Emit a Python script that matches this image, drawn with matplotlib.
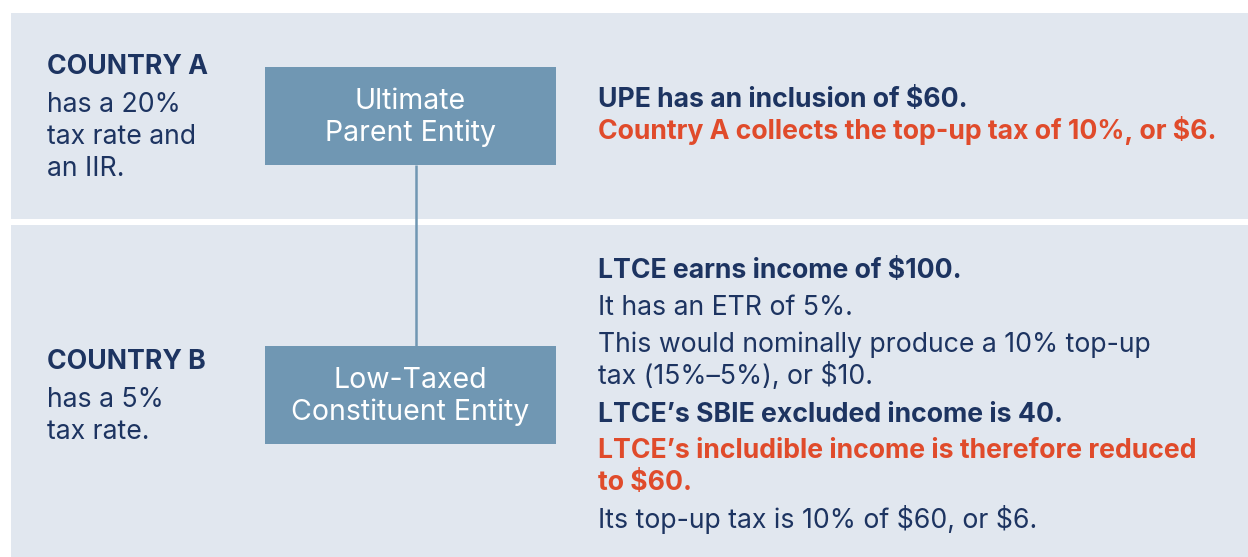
import matplotlib
matplotlib.use('Agg')
import matplotlib.pyplot as plt
from matplotlib.patches import Rectangle

plt.rcParams['font.family'] = ['Inter', 'DejaVu Sans']
plt.rcParams['text.parse_math'] = False

navy = '#1d3461'
orange = '#e04b2b'
panel_col = '#e1e7ef'
box_col = '#7097b3'

# left column texts
country_heads = ['COUNTRY A', 'COUNTRY B']
country_notes = [['has a 20%', 'tax rate and', 'an IIR.'],
                 ['has a 5%', 'tax rate.']]
# entity boxes
entity_names = [['Ultimate', 'Parent Entity'],
                ['Low-Taxed', 'Constituent Entity']]
# right column texts: (text, bold, colour)
top_notes = [('UPE has an inclusion of $60.', True, navy),
             ('Country A collects the top-up tax of 10%, or $6.', True, orange)]
bottom_notes = [('LTCE earns income of $100.', True, navy),
                ('It has an ETR of 5%.', False, navy),
                ('This would nominally produce a 10% top-up', False, navy),
                ('tax (15%\u20135%), or $10.', False, navy),
                ('LTCE\u2019s SBIE excluded income is 40.', True, navy),
                ('LTCE\u2019s includible income is therefore reduced', True, orange),
                ('to $60.', True, orange),
                ('Its top-up tax is 10% of $60, or $6.', False, navy)]

W, H = 1248, 557
fig = plt.figure(figsize=(W / 100, H / 100), dpi=100)
ax = fig.add_axes([0, 0, 1, 1])
ax.set_xlim(0, W)
ax.set_ylim(H, 0)
ax.axis('off')

fs = 19.2
box_fs = 20.5

# background panels
ax.add_patch(Rectangle((11, 13), W - 11, 205.5, color=panel_col, lw=0))
ax.add_patch(Rectangle((11, 225), W - 11, H - 225, color=panel_col, lw=0))

# connector and boxes
ax.plot([415.5, 415.5], [165, 346], color=box_col, lw=1.8, solid_capstyle='butt')
box_tops = [67, 346]
for top, lines in zip(box_tops, entity_names):
    ax.add_patch(Rectangle((265, top), 291, 98, color=box_col, lw=0))
    ax.text(410.5, top + 42, lines[0], color='white', fontsize=box_fs, ha='center', va='baseline')
    ax.text(410.5, top + 74, lines[1], color='white', fontsize=box_fs, ha='center', va='baseline')

# left column
head_y = [74, 369]
for y0, head, notes in zip(head_y, country_heads, country_notes):
    ax.text(47, y0, head, color=navy, fontsize=fs, fontweight='bold', va='baseline')
    for i, t in enumerate(notes):
        ax.text(47, y0 + 38 + i * 32, t, color=navy, fontsize=fs, va='baseline')

# right column
top_y = [107, 139]
for y, (t, b, c) in zip(top_y, top_notes):
    ax.text(598, y, t, color=c, fontsize=fs, fontweight='bold' if b else 'normal', va='baseline')

bottom_y = [278, 315, 352, 384, 422, 458, 490, 528]
for y, (t, b, c) in zip(bottom_y, bottom_notes):
    ax.text(598, y, t, color=c, fontsize=fs, fontweight='bold' if b else 'normal', va='baseline')

fig.savefig('out.png', dpi=100, facecolor='white')
